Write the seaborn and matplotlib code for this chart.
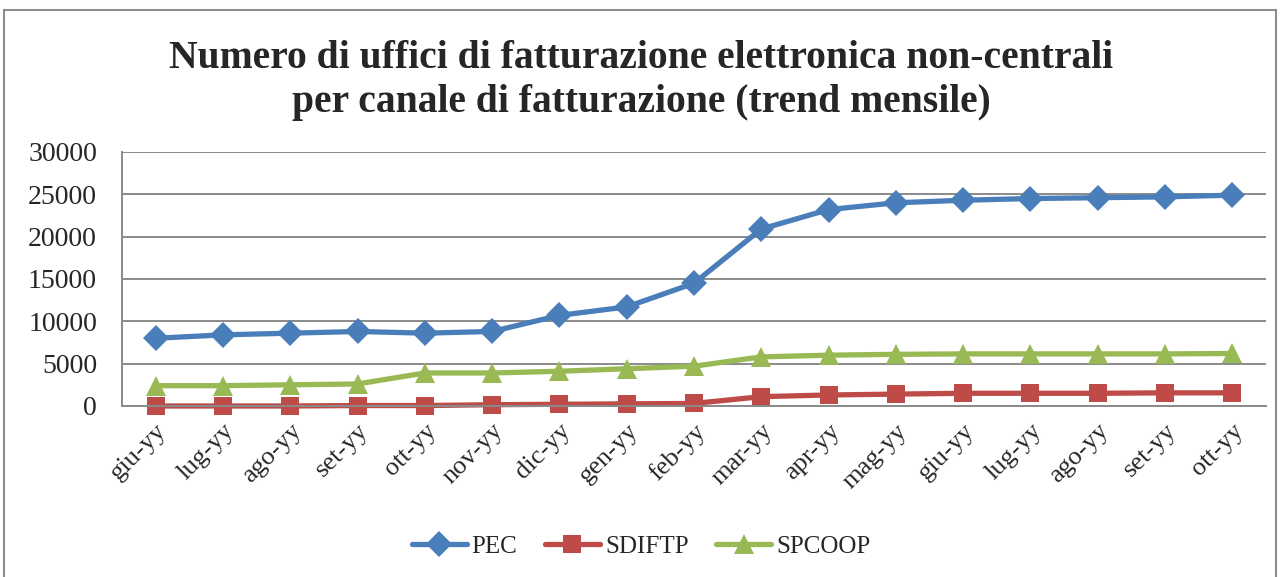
import numpy as np
import pandas as pd
import matplotlib.pyplot as plt
import matplotlib.patches as mpatches
import seaborn as sns

# Monthly trend data
months = ["giu-yy", "lug-yy", "ago-yy", "set-yy", "ott-yy", "nov-yy", "dic-yy", "gen-yy",
          "feb-yy", "mar-yy", "apr-yy", "mag-yy", "giu-yy", "lug-yy", "ago-yy", "set-yy", "ott-yy"]
pec = [8000, 8400, 8600, 8800, 8600, 8800, 10700, 11700, 14500, 20900, 23200, 24000,
       24300, 24500, 24600, 24700, 24900]
sdiftp = [0, 0, 0, 50, 50, 150, 200, 250, 300, 1100, 1300, 1400, 1500, 1500, 1500, 1550, 1550]
spcoop = [2400, 2400, 2500, 2600, 3900, 3900, 4100, 4400, 4700, 5800, 6000, 6100,
          6150, 6150, 6150, 6150, 6200]
series_names = ["PEC", "SDIFTP", "SPCOOP"]
colors = {"PEC": "#4A7EBB", "SDIFTP": "#BE4B48", "SPCOOP": "#98B954"}
markers = {"PEC": "D", "SDIFTP": "s", "SPCOOP": "^"}

idx = np.arange(len(months))
df = pd.concat([
    pd.DataFrame({"pos": idx, "value": vals, "canale": name})
    for name, vals in zip(series_names, [pec, sdiftp, spcoop])
])

sns.set_style("white")
plt.rcParams["font.family"] = ["Liberation Serif", "DejaVu Serif"]

fig = plt.figure(figsize=(12.82, 5.77), dpi=100)
ax = fig.add_axes([0.0952, 0.2964, 0.8923, 0.4402])

# outer chart border
fig.patches.append(mpatches.Rectangle((0.003, -0.01), 0.992, 0.993, transform=fig.transFigure,
                                      fill=False, edgecolor="#8c8c8c", linewidth=1.5))

sns.lineplot(data=df, x="pos", y="value", hue="canale", style="canale",
             palette=colors, markers=markers, dashes=False, linewidth=3.8,
             markersize=13, markeredgewidth=0, ax=ax, legend=True)
for ln in ax.lines:
    ln.set_clip_on(False)
    if ln.get_marker() == "^":
        ln.set_markersize(15)

ax.set_xlim(-0.5, len(months) - 0.5)
ax.set_ylim(0, 30000)
ax.set_yticks(np.arange(0, 30001, 5000))
ax.yaxis.grid(True, color="#8a8a8a", linewidth=1.4)
ax.set_axisbelow(True)
ax.set_xlabel("")
ax.set_ylabel("")

ax.set_xticks(idx)
ax.set_xticklabels(months, rotation=45, ha="right", rotation_mode="anchor", fontsize=19)
ax.set_xticks(np.arange(-0.5, len(months)), minor=True)
ax.tick_params(axis="x", which="major", length=0, pad=10)
ax.tick_params(axis="x", which="minor", length=7, width=1.3, color="#8a8a8a", direction="out")
ax.tick_params(axis="y", length=6, width=1.3, color="#8a8a8a", labelsize=20, pad=12)

for side in ["top", "right"]:
    ax.spines[side].set_visible(False)
for side in ["left", "bottom"]:
    ax.spines[side].set_color("#8a8a8a")
    ax.spines[side].set_linewidth(1.4)

fig.suptitle("Numero di uffici di fatturazione elettronica non-centrali\n"
             "per canale di fatturazione (trend mensile)",
             y=0.93, fontsize=28.5, fontweight="bold", linespacing=1.25)

handles, labels = ax.get_legend_handles_labels()
for h in handles:
    if h.get_marker() == "^":
        h.set_markersize(15)
ax.legend(handles, labels, loc="center", bbox_to_anchor=(0.5, 0.053),
          bbox_transform=fig.transFigure, ncol=3, frameon=False, fontsize=18,
          handlelength=2.2, columnspacing=1.1, handletextpad=0.2)

fig.savefig("out.png", dpi=100)
